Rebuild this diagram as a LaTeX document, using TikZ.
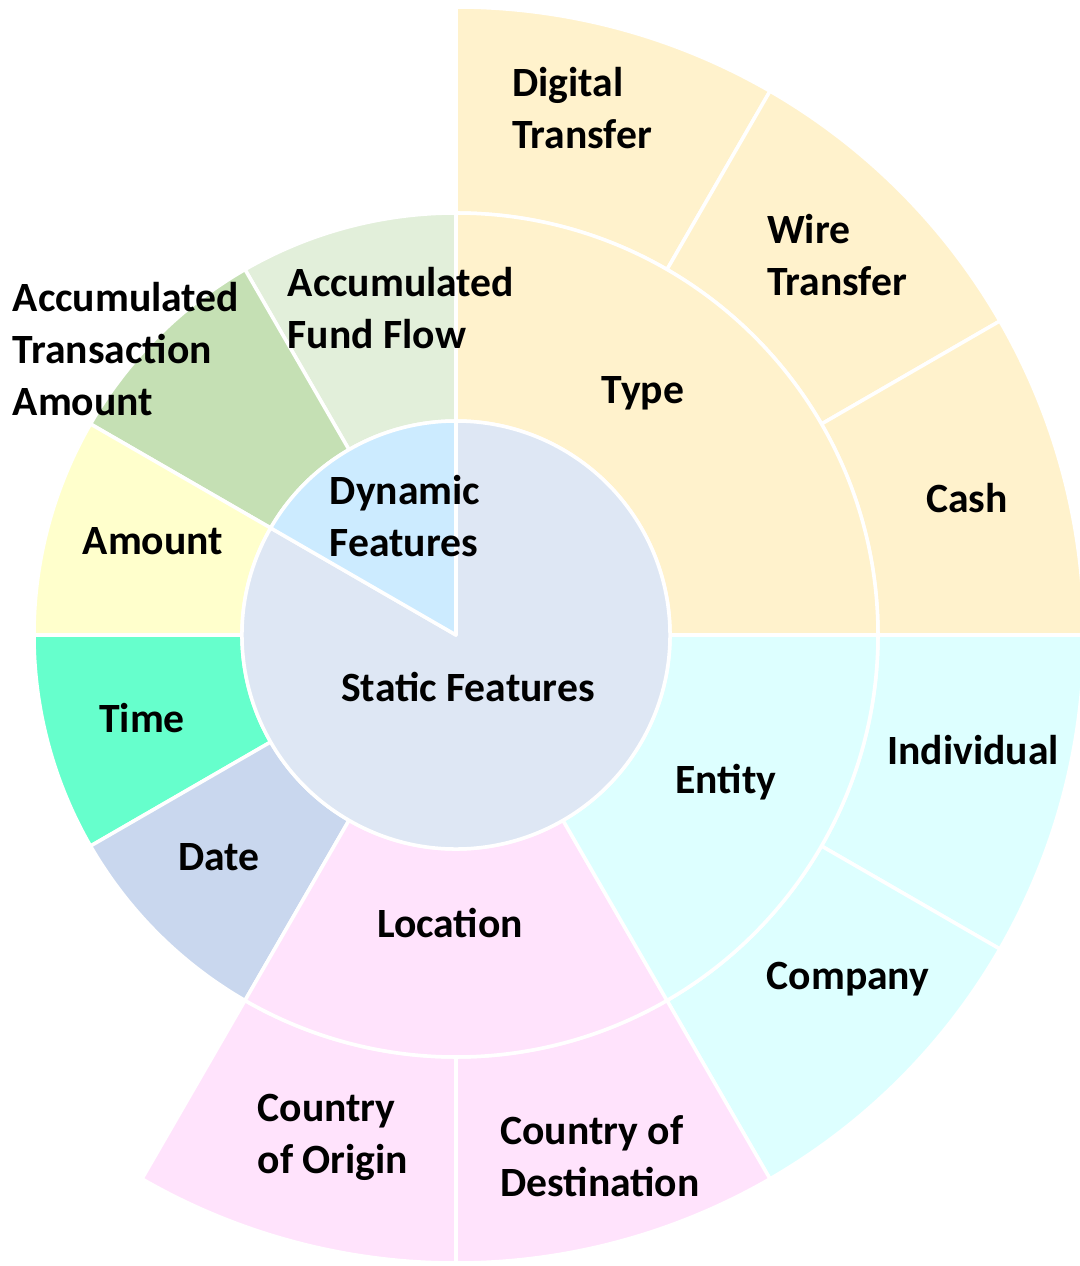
\documentclass[tikz,border=0pt]{standalone}
\usepackage{fontspec}
\setmainfont{Carlito}

\definecolor{typeC}{HTML}{FFF2CC}
\definecolor{entityC}{HTML}{DDFFFF}
\definecolor{locC}{HTML}{FFE3FC}
\definecolor{dateC}{HTML}{C9D7EE}
\definecolor{timeC}{HTML}{66FFCC}
\definecolor{amountC}{HTML}{FFFFCC}
\definecolor{atamC}{HTML}{C5E0B4}
\definecolor{affC}{HTML}{E2EFDA}
\definecolor{dynC}{HTML}{CCEBFF}
\definecolor{staticC}{HTML}{DEE7F4}

% one piece of a ring: colour, start angle, end angle, inner radius, outer radius
\newcommand{\ringpart}[5]{%
  \filldraw[seg, fill=#1] (#2:#4) arc[start angle=#2, end angle=#3, radius=#4]
    -- (#3:#5) arc[start angle=#3, end angle=#2, radius=#5] -- cycle;}

\begin{document}
\begin{tikzpicture}
    % Define styles for pieces and labels
    \tikzset{
      seg/.style={draw=white, line width=2pt, line join=round},
      lbl/.style={font=\fontsize{23.7}{29.5}\selectfont\bfseries, align=left, inner sep=0pt}
    }
    \useasboundingbox (-9.12,-12.62) rectangle (12.48,12.7);

    % Outer ring
    \ringpart{typeC}{60}{90}{8.44}{12.56}
    \ringpart{typeC}{30}{60}{8.44}{12.56}
    \ringpart{typeC}{0}{30}{8.44}{12.56}
    \ringpart{entityC}{-30}{0}{8.44}{12.56}
    \ringpart{entityC}{-60}{-30}{8.44}{12.56}
    \ringpart{locC}{-90}{-60}{8.44}{12.56}
    \ringpart{locC}{-120}{-90}{8.44}{12.56}

    % Middle ring
    \ringpart{typeC}{0}{90}{4.28}{8.44}
    \ringpart{affC}{90}{120}{4.28}{8.44}
    \ringpart{atamC}{120}{150}{4.28}{8.44}
    \ringpart{amountC}{150}{180}{4.28}{8.44}
    \ringpart{timeC}{180}{210}{4.28}{8.44}
    \ringpart{dateC}{210}{240}{4.28}{8.44}
    \ringpart{locC}{240}{300}{4.28}{8.44}
    \ringpart{entityC}{300}{360}{4.28}{8.44}

    % Inner circle
    \filldraw[seg, fill=staticC] (0,0) -- (150:4.28) arc[start angle=150, end angle=450, radius=4.28] -- cycle;
    \filldraw[seg, fill=dynC] (0,0) -- (90:4.28) arc[start angle=90, end angle=150, radius=4.28] -- cycle;

    % Labels
    \node[lbl] (digital) at (2.52,10.54) {Digital\\Transfer};
    \node[lbl] (wire) at (7.62,7.60) {Wire\\Transfer};
    \node[lbl] (cash) at (10.22,2.74) {Cash};
    \node[lbl] (type) at (3.74,4.84) {Type};
    \node[lbl] (fundflow) at (-1.10,6.54) {Accumulated\\Fund Flow};
    \node[lbl] (transamount) at (-6.60,5.72) {Accumulated\\Transaction\\Amount};
    \node[lbl] (dynamic) at (-1.02,2.38) {Dynamic\\Features};
    \node[lbl] (amount) at (-6.06,1.88) {Amount};
    \node[lbl] (static) at (0.24,-1.04) {Static Features};
    \node[lbl] (time) at (-6.28,-1.66) {Time};
    \node[lbl] (date) at (-4.74,-4.44) {Date};
    \node[lbl] (entity) at (5.40,-2.94) {Entity};
    \node[lbl] (individual) at (10.34,-2.30) {Individual};
    \node[lbl] (company) at (7.84,-6.88) {Company};
    \node[lbl] (location) at (-0.12,-5.76) {Location};
    \node[lbl] (origin) at (-2.46,-10.04) {Country\\of Origin};
    \node[lbl] (destination) at (2.88,-10.42) {Country of\\Destination};

\end{tikzpicture}
\end{document}
